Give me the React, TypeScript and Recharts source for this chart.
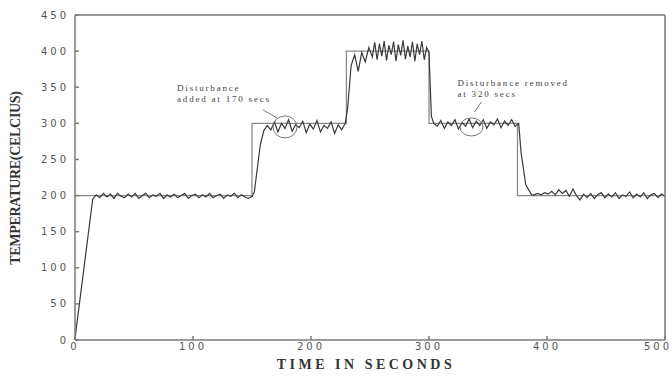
import { LineChart, Line, XAxis, YAxis, ReferenceDot } from 'recharts'

const X_TICKS = [0, 100, 200, 300, 400, 500]
const Y_TICKS = [0, 50, 100, 150, 200, 250, 300, 350, 400, 450]

// set point (step changes)
const setTime = [0, 150, 150, 230, 230, 300, 300, 375, 375, 500]
const setTemp = [200, 200, 300, 300, 400, 400, 300, 300, 200, 200]

// measured response
const respTime = [
  0, 1, 15, 18, 21, 24, 27, 30, 33, 36, 39, 42, 45, 48, 51, 54, 57, 60, 63, 66, 69, 72, 75, 78, 81, 84, 87, 90,
  93, 96, 99, 102, 105, 108, 111, 114, 117, 120, 123, 126, 129, 132, 135, 138, 141, 144, 147, 150,
  152, 157, 160, 163, 166, 169, 172, 175, 178, 181, 184, 187, 190, 193, 196, 199, 202, 205, 208, 211, 214, 217,
  220, 223, 226, 229,
  231, 234, 237, 240, 243, 246, 249, 252, 254, 256, 258, 260, 262, 264, 266, 268, 270, 272, 274, 276, 278, 280,
  282, 284, 286, 288, 290, 292, 294, 296, 298, 300,
  302, 304, 307, 310, 313, 316, 319, 322, 325, 328, 331, 334, 337, 340, 343, 346, 349, 352, 355, 358, 361, 364,
  367, 370, 373, 376,
  378, 382, 387, 389, 392, 395, 398, 401, 404, 407, 410, 413, 416, 419, 422, 425, 428, 431, 434, 437, 440, 443,
  446, 449, 452, 455, 458, 461, 464, 467, 470, 473, 476, 479, 482, 485, 488, 491, 494, 497, 500,
]
const respTemp = [
  0, 15, 195, 201, 197, 203, 198, 202, 196, 203, 199, 197, 202, 198, 203, 196, 200, 203, 197, 201, 199, 203, 196,
  201, 198, 202, 197, 200, 203, 196, 200, 202, 197, 201, 198, 203, 197, 200, 202, 196, 201, 199, 203, 197, 201,
  198, 196, 199,
  205, 270, 290, 297, 291, 302, 288, 300, 293, 305, 289, 298, 294, 303, 287, 299, 292, 304, 288, 297, 293, 302,
  286, 298, 291, 300,
  320, 380, 395, 372, 398, 385, 405, 392, 412, 388, 410, 393, 414, 387, 408, 395, 413, 386, 409, 394, 415, 389,
  407, 392, 413, 386, 410, 395, 414, 388, 405, 398,
  310, 300, 296, 304, 293, 302, 297, 305, 292, 301, 296, 306, 294, 303, 297, 305, 293, 302, 298, 306, 294, 303,
  297, 305, 296, 300,
  260, 215, 201, 201, 203, 201, 204, 202, 206, 201, 208, 203, 207, 199, 209, 200, 194, 202, 197, 203, 196, 201,
  204, 197, 202, 198, 204, 196, 201, 199, 205, 197, 202, 198, 204, 196, 201, 203, 197, 202, 199,
]

const setData = setTime.map((t, i) => ({ t, v: setTemp[i] }))
const respData = respTime.map((t, i) => ({ t, v: respTemp[i] }))

const AXIS = '#7a7a7a'
const tickStyle = { fill: '#555', fontSize: 10, fontFamily: 'DejaVu Sans', letterSpacing: 3 }
const noTick = () => <g />

// bottom labels; keep the last one inside the page
function XTick({ x, y, payload }: any) {
  return (
    <text
      x={Math.min(x, 658)}
      y={y}
      dy="0.71em"
      textAnchor="middle"
      fill={tickStyle.fill}
      fontSize={tickStyle.fontSize}
      fontFamily={tickStyle.fontFamily}
      letterSpacing={tickStyle.letterSpacing}
    >
      {payload.value}
    </text>
  )
}

function Note({ cx, cy, lines, tx, ty, l1, l2, rx, ry }: any) {
  return (
    <g>
      <ellipse cx={cx} cy={cy} rx={rx} ry={ry} fill="none" stroke="#777" strokeWidth={1} />
      <line x1={cx + l1[0]} y1={cy + l1[1]} x2={cx + l2[0]} y2={cy + l2[1]} stroke="#777" strokeWidth={1} />
      {lines.map((s: string, i: number) => (
        <text
          key={i}
          x={cx + tx}
          y={cy + ty + i * 11}
          fontSize={9}
          fontFamily="Liberation Serif"
          letterSpacing={1.8}
          fill="#444"
        >
          {s}
        </text>
      ))}
    </g>
  )
}

export default function App() {
  return (
    <div style={{ position: 'fixed', left: 0, top: 0, width: 672, height: 377, background: '#fff' }}>
      <LineChart width={672} height={377} margin={{ top: 14, right: 6, left: 0, bottom: 17 }}>
        <XAxis
          xAxisId={0}
          dataKey="t"
          type="number"
          domain={[0, 500]}
          ticks={X_TICKS}
          height={20}
          tickSize={-4}
          tickMargin={7}
          stroke={AXIS}
          strokeWidth={1.5}
          tick={<XTick />}
          allowDuplicatedCategory={false}
        />
        <XAxis
          xAxisId="top"
          orientation="top"
          type="number"
          domain={[0, 500]}
          ticks={X_TICKS}
          height={1}
          tickSize={-4}
          stroke={AXIS}
          strokeWidth={1.5}
          tick={noTick}
        />
        <YAxis
          yAxisId={0}
          type="number"
          domain={[0, 450]}
          ticks={Y_TICKS}
          width={75}
          tickSize={-4}
          tickMargin={10}
          stroke={AXIS}
          strokeWidth={1.5}
          tick={tickStyle}
        />
        <YAxis
          yAxisId="right"
          orientation="right"
          type="number"
          domain={[0, 450]}
          ticks={Y_TICKS}
          width={1}
          tickSize={-4}
          stroke={AXIS}
          strokeWidth={1.5}
          tick={noTick}
        />
        <Line
          data={setData}
          dataKey="v"
          type="linear"
          stroke="#8a8a8a"
          strokeWidth={1.3}
          dot={false}
          isAnimationActive={false}
        />
        <Line
          data={respData}
          dataKey="v"
          type="linear"
          stroke="#3a3a3a"
          strokeWidth={1.2}
          dot={false}
          isAnimationActive={false}
        />
        <ReferenceDot
          x={178}
          y={295}
          shape={(p: any) => (
            <Note
              cx={p.cx}
              cy={p.cy}
              rx={12}
              ry={11}
              lines={['Disturbance', 'added at 170 secs']}
              tx={-108}
              ty={-36}
              l1={[-22, -17]}
              l2={[-8, -9]}
            />
          )}
        />
        <ReferenceDot
          x={336}
          y={295}
          shape={(p: any) => (
            <Note
              cx={p.cx}
              cy={p.cy}
              rx={11.5}
              ry={9}
              lines={['Disturbance removed', 'at 320 secs']}
              tx={-14}
              ty={-41}
              l1={[10, -25]}
              l2={[3, -15]}
            />
          )}
        />
      </LineChart>
      <div
        style={{
          position: 'absolute',
          left: 16,
          top: 178,
          transform: 'translate(-50%, -50%) rotate(-90deg)',
          fontFamily: 'Liberation Serif',
          fontWeight: 'bold',
          fontSize: 14,
          color: '#333',
          whiteSpace: 'nowrap',
          letterSpacing: -0.3,
        }}
      >
        TEMPERATURE(CELCIUS)
      </div>
      <div
        style={{
          position: 'absolute',
          left: 366,
          top: 365,
          transform: 'translate(-50%, -50%)',
          fontFamily: 'Liberation Serif',
          fontWeight: 'bold',
          fontSize: 14,
          color: '#333',
          whiteSpace: 'nowrap',
          letterSpacing: 3.5,
        }}
      >
        TIME IN SECONDS
      </div>
    </div>
  )
}
